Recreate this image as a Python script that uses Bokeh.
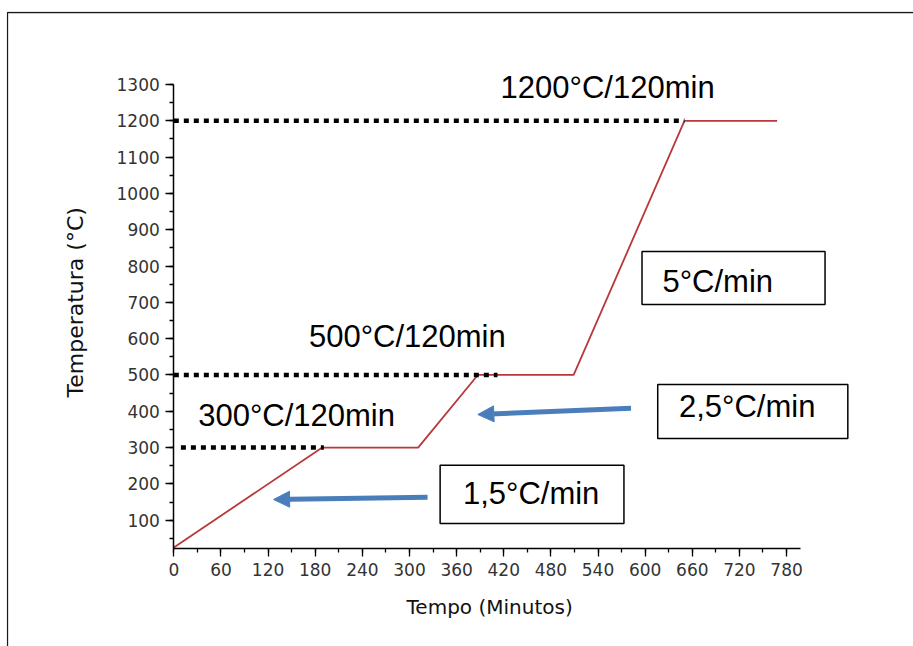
import math
from bokeh.plotting import figure
from bokeh.models import (Range1d, SingleIntervalTicker, Arrow, NormalHead,
                          BoxAnnotation, ColumnDataSource, Label)
from bokeh.core.properties import value
from bokeh.embed import file_html
from bokeh.resources import INLINE

# ---- data ----
time_min = [0, 189, 311, 387, 509, 650, 768]
temp_c = [25, 300, 300, 500, 500, 1200, 1200]

dot_level = [300, 500, 1200]
dot_start = [9, 0, 0]
dot_end = [191, 412, 650]

stage_text = ["1200°C/120min", "500°C/120min", "300°C/120min"]
stage_x = [416, 172, 31]
stage_y = [1291, 606, 388]

rate_text = ["5°C/min", "2,5°C/min", "1,5°C/min"]
rate_x = [622, 643, 368]
rate_y = [757, 413, 173]
box_left = [596, 616, 339]
box_right = [829, 858, 573]
box_top = [840, 474, 251]
box_bottom = [694, 325, 91]

arrow_x0 = [582, 323]
arrow_y0 = [408, 163]
arrow_x1 = [387, 127]
arrow_y1 = [391, 157]

x_title = "Tempo (Minutos)"
y_title = "Temperatura (°C)"
x_ticks_interval = 60
y_ticks_interval = 100

FONT = "Liberation Sans"
AXFONT = "DejaVu Sans"

p = figure(width=913, height=646, x_range=Range1d(-213, 941.6), y_range=Range1d(-247.9, 1501),
           output_backend="svg", toolbar_location=None,
           min_border_left=6, min_border_right=0, min_border_top=11, min_border_bottom=0)
p.xgrid.visible = False
p.ygrid.visible = False
p.outline_line_color = None
p.background_fill_color = "white"
p.border_fill_color = "white"

p.xaxis.ticker = SingleIntervalTicker(interval=x_ticks_interval, num_minor_ticks=2)
p.yaxis.ticker = SingleIntervalTicker(interval=y_ticks_interval, num_minor_ticks=2)
p.xaxis.bounds = (0, 798)
p.yaxis.bounds = (22, 1300)
p.xaxis.fixed_location = 22
p.yaxis.fixed_location = 0
for ax in (p.xaxis, p.yaxis):
    ax.axis_line_width = 1.5
    ax.axis_line_color = "black"
    ax.major_tick_line_color = "black"
    ax.minor_tick_line_color = "black"
    ax.major_tick_line_width = 1.3
    ax.minor_tick_line_width = 1.3
    ax.major_tick_out = 8
    ax.major_tick_in = 0
    ax.minor_tick_out = 4
    ax.minor_tick_in = 0
    ax.major_label_text_font = AXFONT
    ax.major_label_text_font_size = "17px"
    ax.major_label_text_color = "#333333"
p.xaxis.major_label_standoff = 6
p.yaxis.major_label_standoff = 6

# axis titles
p.add_layout(Label(x=402, y=-140, text=x_title, text_font=AXFONT, text_font_size="20px",
                   text_align="center", text_baseline="middle", text_color="#111111"))
p.add_layout(Label(x=-125, y=700, text=y_title, text_font=AXFONT, text_font_size="22px",
                   text_align="center", text_baseline="middle", text_color="#111111",
                   angle=math.pi / 2))

# heating curve
p.line(time_min, temp_c, line_color="#B8383B", line_width=1.8)

# dotted guide lines
p.segment(x0=dot_start, y0=dot_level, x1=dot_end, y1=dot_level,
          line_color="black", line_width=4.5, line_dash="5 5")

# rate boxes
p.quad(left=box_left, right=box_right, top=box_top, bottom=box_bottom,
       fill_color="white", line_color="black", line_width=1.5)

p.text(x=stage_x, y=stage_y, text=stage_text, text_font=value(FONT),
       text_font_size="31px", text_baseline="alphabetic", text_align="left", text_color="black")
p.text(x=rate_x, y=rate_y, text=rate_text, text_font=value(FONT),
       text_font_size="31px", text_baseline="alphabetic", text_align="left", text_color="black")

# arrows
blue = "#4A7EBB"
asrc = ColumnDataSource(dict(x0=arrow_x0, y0=arrow_y0, x1=arrow_x1, y1=arrow_y1))
p.add_layout(Arrow(end=NormalHead(size=16, fill_color=blue, line_color=blue),
                   x_start="x0", y_start="y0", x_end="x1", y_end="y1", source=asrc,
                   line_color=blue, line_width=5))

# outer frame (left and top edges)
p.add_layout(BoxAnnotation(left=7, right=2000, top=12, bottom=2000,
                           left_units="canvas", right_units="canvas",
                           top_units="canvas", bottom_units="canvas",
                           fill_color=None, fill_alpha=0, line_color="#1a1a1a",
                           line_alpha=1.0, line_width=1.3))

open("out.html", "w").write(file_html(p, INLINE))
